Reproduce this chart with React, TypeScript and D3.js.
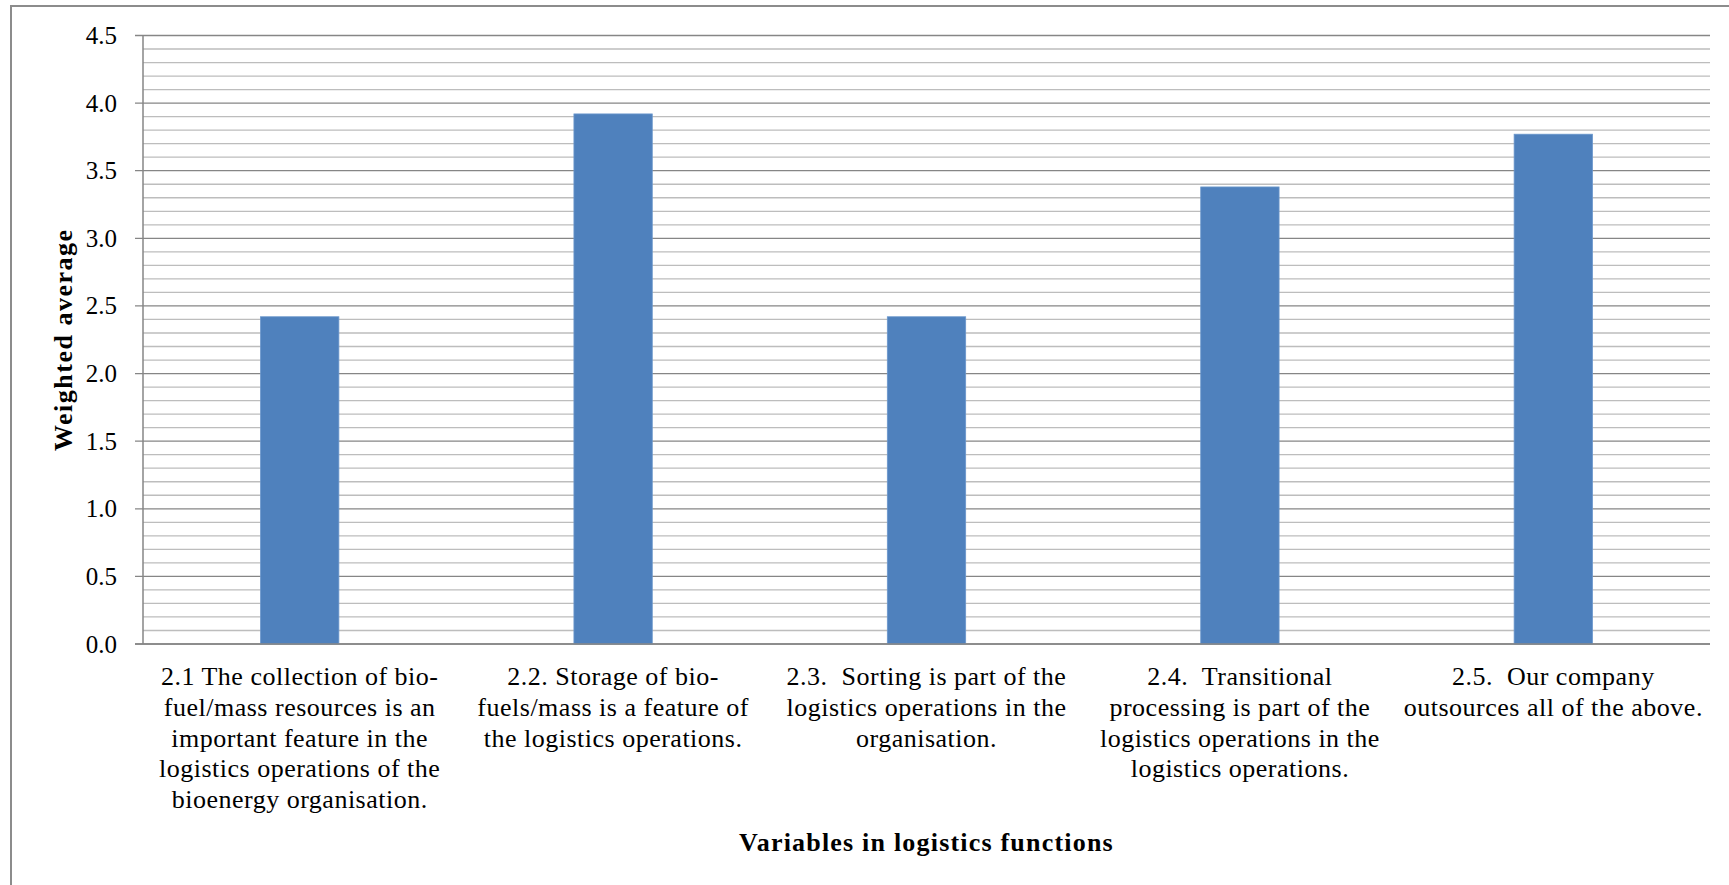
import React from "react";
import * as d3 from "d3";

// Weighted average per logistics-function statement
const categories: string[] = ["2.1", "2.2", "2.3", "2.4", "2.5"];
const values: number[] = [2.42, 3.92, 2.42, 3.38, 3.77];
const categoryLabelLines: string[][] = [
  ["2.1 The collection of bio-", "fuel/mass resources is an", "important feature in the", "logistics operations of the", "bioenergy organisation."],
  ["2.2. Storage of bio-", "fuels/mass is a feature of", "the logistics operations."],
  ["2.3.  Sorting is part of the", "logistics operations in the", "organisation."],
  ["2.4.  Transitional", "processing is part of the", "logistics operations in the", "logistics operations."],
  ["2.5.  Our company", "outsources all of the above."],
];
const majorTicks: number[] = [0, 0.5, 1.0, 1.5, 2.0, 2.5, 3.0, 3.5, 4.0, 4.5];
const yTitle = "Weighted average";
const xTitle = "Variables in logistics functions";

const W = 1729;
const H = 885;
const plot = { left: 143, right: 1710, top: 35.5, bottom: 644 };
const FONT = "'Liberation Serif', 'Times New Roman', serif";

export default function App() {
  const x = d3
    .scaleBand<string>()
    .domain(categories)
    .range([plot.left, plot.right])
    .paddingInner(0.75)
    .paddingOuter(0.375);
  const y = d3.scaleLinear().domain([0, 4.5]).range([plot.bottom, plot.top]);
  const minorTicks = d3.range(0, 46).map((i) => i / 10).filter((v) => Math.round(v * 10) % 5 !== 0);

  return (
    <svg
      width={W}
      height={H}
      style={{ position: "absolute", left: 0, top: 0, background: "#fff" }}
      fontFamily={FONT}
    >
      <rect x={11} y={6} width={1800} height={900} fill="#fff" stroke="#8c8c8c" strokeWidth={2} />

      {/* minor gridlines */}
      {minorTicks.map((v) => (
        <line key={"mn" + v} x1={plot.left} x2={plot.right} y1={y(v)} y2={y(v)} stroke="#bdbdbd" strokeWidth={1.3} />
      ))}
      {/* major gridlines with tick marks */}
      {majorTicks.map((v) => (
        <line key={"mj" + v} x1={plot.left - 8} x2={plot.right} y1={y(v)} y2={y(v)} stroke="#868686" strokeWidth={1.3} />
      ))}
      <line x1={plot.left} x2={plot.left} y1={plot.top} y2={plot.bottom} stroke="#868686" strokeWidth={1.5} />

      {/* bars */}
      {values.map((v, i) => (
        <rect
          key={categories[i]}
          x={x(categories[i])}
          y={y(v)}
          width={x.bandwidth()}
          height={plot.bottom - y(v)}
          fill="#4f81bd"
          stroke="#6b97cc"
          strokeWidth={0.8}
        />
      ))}
      <line x1={plot.left - 8} x2={plot.right} y1={plot.bottom} y2={plot.bottom} stroke="#868686" strokeWidth={1.5} />

      {/* y tick labels */}
      {majorTicks.map((v) => (
        <text key={"tl" + v} x={117} y={y(v) + 8.5} textAnchor="end" fontSize={25} fill="#000">
          {d3.format(".1f")(v)}
        </text>
      ))}

      {/* category labels */}
      {categoryLabelLines.map((lines, i) => {
        const cx = (x(categories[i]) as number) + x.bandwidth() / 2;
        return (
          <text
            key={"cl" + i}
            textAnchor="middle"
            fontSize={26}
            letterSpacing={0.5}
            fill="#000"
            style={{ whiteSpace: "pre" }}
          >
            {lines.map((ln, j) => (
              <tspan key={j} x={cx} y={685 + j * 30.8}>
                {ln}
              </tspan>
            ))}
          </text>
        );
      })}

      {/* axis titles */}
      <text
        transform={`translate(72,${(plot.top + plot.bottom) / 2}) rotate(-90)`}
        textAnchor="middle"
        fontSize={26}
        fontWeight="bold"
        letterSpacing={1.5}
      >
        {yTitle}
      </text>
      <text
        x={(plot.left + plot.right) / 2}
        y={851}
        textAnchor="middle"
        fontSize={26}
        fontWeight="bold"
        letterSpacing={1.2}
      >
        {xTitle}
      </text>
    </svg>
  );
}
